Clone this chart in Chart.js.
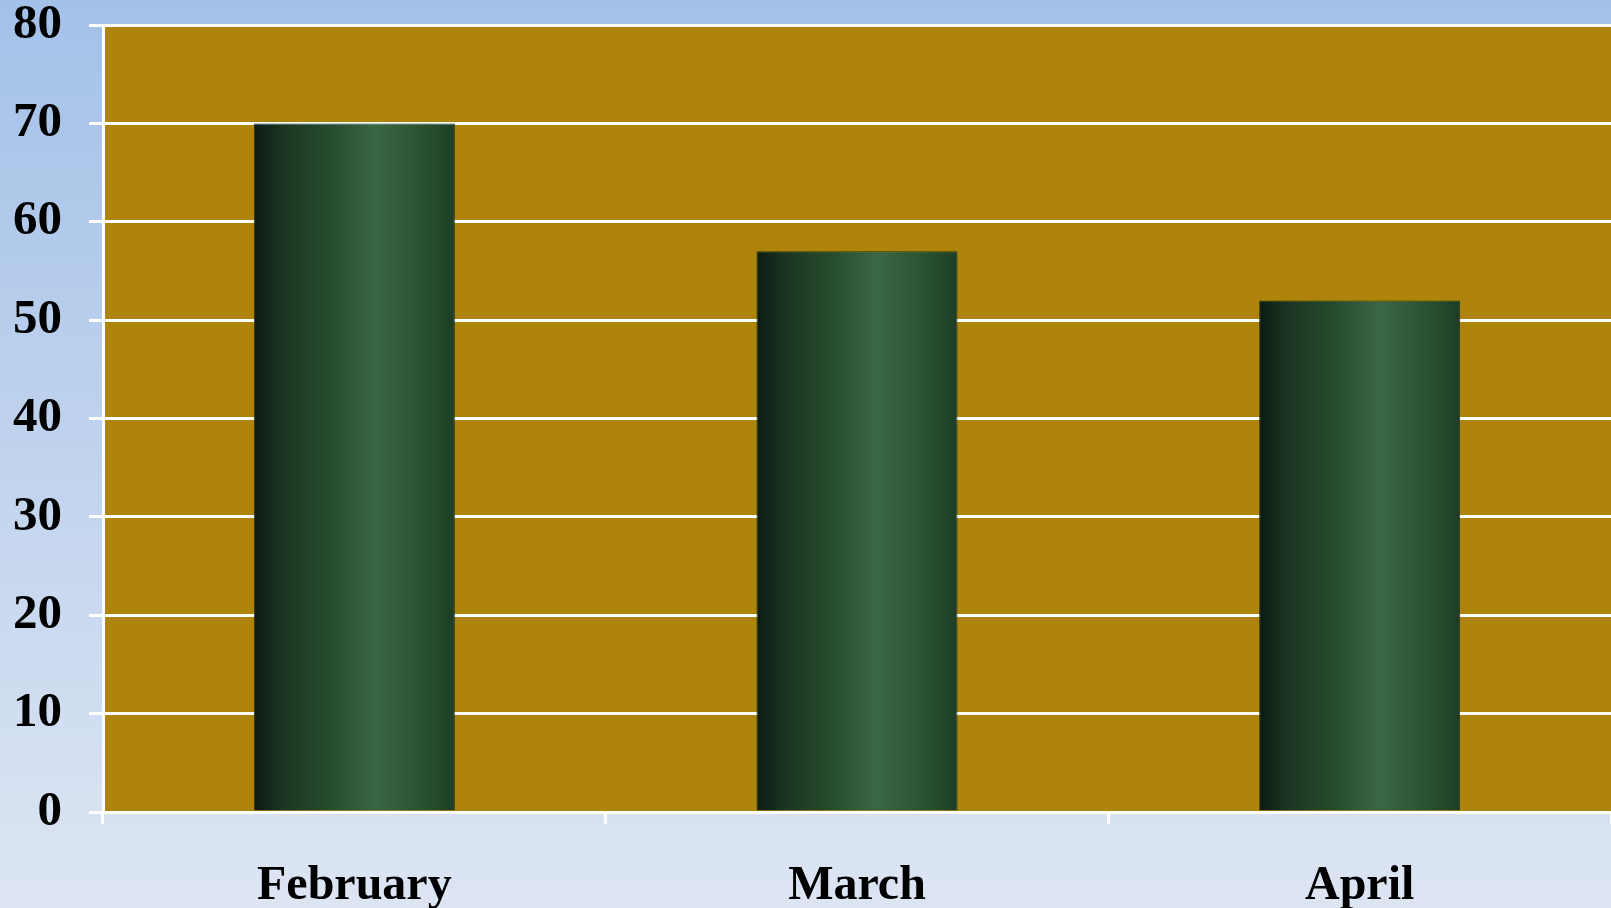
<!DOCTYPE html>
<html>
<head>
<meta charset="utf-8">
<script src="https://cdn.jsdelivr.net/npm/chart.js@4.4.1/dist/chart.umd.min.js"></script>
<style>
html,body{margin:0;padding:0;background:#dce4f3;}
canvas{display:block;}
</style>
</head>
<body>
<canvas id="c" width="1611" height="908"></canvas>
<script>
const categories = ["February", "March", "April"];
const values = [70, 57, 52];
const yTicks = [0, 10, 20, 30, 40, 50, 60, 70, 80];

const bgPlugin = {
  id: 'bg',
  beforeDraw(chart) {
    const ctx = chart.ctx;
    const g = ctx.createLinearGradient(0, 0, 0, chart.height);
    g.addColorStop(0, '#a3c1e8');
    g.addColorStop(1, '#dde5f3');
    ctx.save();
    ctx.fillStyle = g;
    ctx.fillRect(0, 0, chart.width, chart.height);
    const a = chart.chartArea;
    ctx.fillStyle = '#af840a';
    ctx.fillRect(a.left, a.top, a.right - a.left, a.bottom - a.top);
    ctx.restore();
  }
};

function barGradient(c) {
  const chart = c.chart;
  const xs = chart.scales.x;
  if (!xs || c.dataIndex === undefined) return '#24492c';
  const cx = xs.getPixelForValue(c.dataIndex);
  const w = (xs.width / categories.length) * 0.4;
  if (!isFinite(cx) || !isFinite(w) || w <= 0) return '#24492c';
  const g = chart.ctx.createLinearGradient(cx - w / 2, 0, cx + w / 2, 0);
  g.addColorStop(0, '#0d1b13');
  g.addColorStop(0.15, '#1b3623');
  g.addColorStop(0.35, '#24492c');
  g.addColorStop(0.6, '#3a6745');
  g.addColorStop(0.85, '#28512f');
  g.addColorStop(1, '#1d3d25');
  return g;
}

new Chart(document.getElementById('c'), {
  type: 'bar',
  data: {
    labels: categories,
    datasets: [{
      data: values,
      backgroundColor: barGradient,
      borderColor: '#26371f',
      borderWidth: 1,
      categoryPercentage: 1,
      barPercentage: 0.4
    }]
  },
  plugins: [bgPlugin],
  options: {
    responsive: false,
    animation: false,
    layout: { padding: { top: 25, left: 0, right: 0, bottom: 0 } },
    plugins: { legend: { display: false }, tooltip: { enabled: false } },
    scales: {
      x: {
        grid: { drawOnChartArea: false, drawTicks: true, tickLength: 12, color: '#ffffff', lineWidth: 3 },
        border: { display: true, color: '#ffffff', width: 3 },
        ticks: { color: '#000', padding: 39, font: { family: 'Liberation Serif', weight: 'bold', size: 48, lineHeight: 1 } },
        afterFit(s) { s.height = 96; s.paddingLeft = 0; s.paddingRight = 0; }
      },
      y: {
        min: 0, max: 80,
        afterBuildTicks(s) { s.ticks = yTicks.map(v => ({ value: v })); },
        grid: { color: '#ffffff', lineWidth: 3, tickLength: 14, drawTicks: true },
        border: { display: true, color: '#ffffff', width: 3 },
        ticks: { color: '#000', padding: 27, font: { family: 'Liberation Serif', weight: 'bold', size: 49, lineHeight: 1 } },
        afterFit(s) { s.width = 103; s.paddingTop = 0; s.paddingBottom = 0; }
      }
    }
  }
});
</script>
</body>
</html>
